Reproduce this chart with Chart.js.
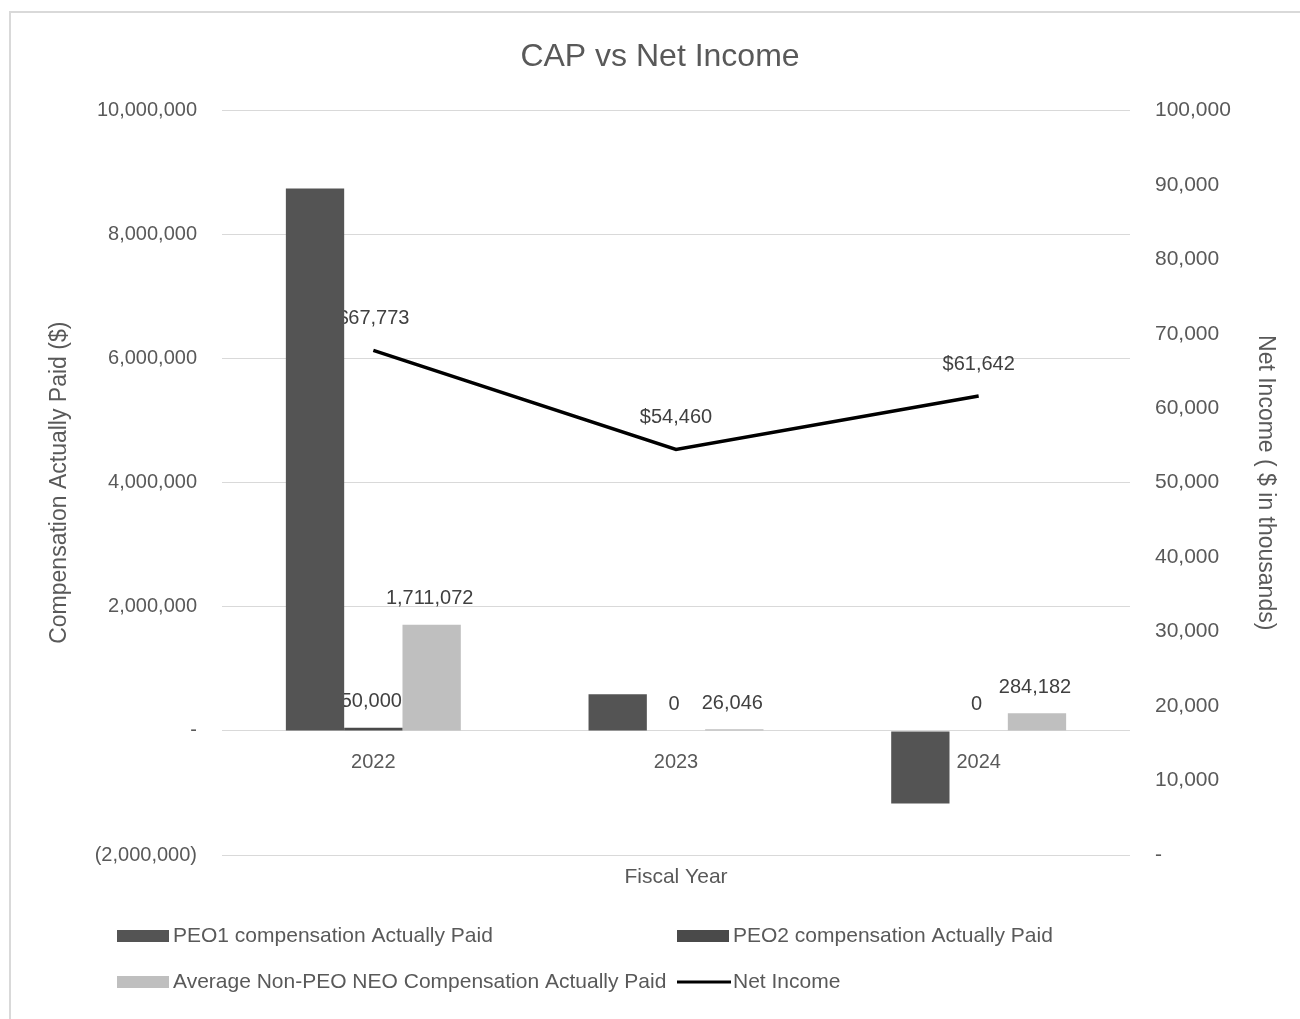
<!DOCTYPE html>
<html><head><meta charset="utf-8">
<script src="https://cdn.jsdelivr.net/npm/chart.js@4/dist/chart.umd.min.js"></script>
<style>
html,body{margin:0;padding:0;background:#fff;overflow:hidden}
#wrap{position:relative;width:1300px;height:1019px}
#frame{position:absolute;left:9px;top:11px;width:1400px;height:1100px;border-left:2px solid #d9d9d9;border-top:2px solid #d9d9d9}
canvas{position:absolute;left:0;top:0}
</style></head><body>
<div id="wrap"><div id="frame"></div><canvas id="c" width="1300" height="1019"></canvas></div>
<script>
// ---- data ----
const categories = ['2022', '2023', '2024'];
const peo1Cap = [8740000, 590000, -1170000];
const peo2Cap = [50000, 0, 0];
const avgNeoCap = [1711072, 26046, 284182];
const netIncome = [67773, 54460, 61642];
const seriesNames = ['PEO1 compensation Actually Paid', 'PEO2 compensation Actually Paid', 'Average Non-PEO NEO Compensation Actually Paid', 'Net Income'];
const chartTitle = 'CAP vs Net Income';
const xTitle = 'Fiscal Year';
const yTitle = 'Compensation Actually Paid ($)';
const y1Title = 'Net Income ( $ in thousands)';
const yTicks = [-2000000, 0, 2000000, 4000000, 6000000, 8000000, 10000000];
const y1Ticks = [0, 10000, 20000, 30000, 40000, 50000, 60000, 70000, 80000, 90000, 100000];

const FONT = '"Liberation Sans", Arial, sans-serif';
const TXT = '#595959';
const LBL = '#404040';

function fmtAxis(v) {
  if (v === 0) return '-';
  const s = Math.abs(v).toLocaleString('en-US');
  return v < 0 ? '(' + s + ')' : s;
}

const labelPlugin = {
  id: 'valueLabels',
  beforeDatasetsDraw(chart) {
    const ctx = chart.ctx;
    ctx.save();
    ctx.font = '20px ' + FONT;
    ctx.fillStyle = LBL;
    ctx.textAlign = 'center';
    ctx.textBaseline = 'middle';
    chart.data.datasets.forEach((ds, i) => {
      if (!ds.showLabels) return;
      const meta = chart.getDatasetMeta(i);
      meta.data.forEach((el, j) => {
        const v = ds.data[j];
        let txt = v.toLocaleString('en-US');
        if (ds.type === 'line') {
          ctx.fillText('$' + txt, el.x, el.y - 32);
        } else {
          const top = Math.min(el.y, el.base);
          ctx.fillText(txt, el.x - 2, top - 26);
        }
      });
    });
    ctx.restore();
  }
};

const legendPlugin = {
  id: 'gridLegend',
  afterDraw(chart) {
    const ctx = chart.ctx;
    const pos = [[117, 936], [677, 936], [117, 982], [677, 982]];
    ctx.save();
    ctx.font = '21px ' + FONT;
    ctx.fillStyle = TXT;
    ctx.textBaseline = 'middle';
    ctx.textAlign = 'left';
    chart.data.datasets.forEach((ds, i) => {
      const [x, y] = pos[i];
      if (ds.type === 'line') {
        ctx.strokeStyle = ds.borderColor;
        ctx.lineWidth = 3;
        ctx.beginPath(); ctx.moveTo(x, y); ctx.lineTo(x + 54, y); ctx.stroke();
      } else {
        ctx.fillStyle = ds.backgroundColor;
        ctx.fillRect(x, y - 6, 52, 12);
      }
      ctx.fillStyle = TXT;
      ctx.fillText(ds.label, x + 56, y);
    });
    ctx.restore();
  }
};

new Chart(document.getElementById('c'), {
  data: {
    labels: categories,
    datasets: [
      { type: 'bar', label: seriesNames[0], data: peo1Cap, backgroundColor: '#545454', yAxisID: 'y', order: 1, showLabels: false },
      { type: 'bar', label: seriesNames[1], data: peo2Cap, backgroundColor: '#4a4a4a', yAxisID: 'y', order: 1, showLabels: true },
      { type: 'bar', label: seriesNames[2], data: avgNeoCap, backgroundColor: '#bfbfbf', yAxisID: 'y', order: 1, showLabels: true },
      { type: 'line', label: seriesNames[3], data: netIncome, borderColor: '#000000', backgroundColor: '#000000', borderWidth: 3.5, pointRadius: 0, tension: 0, yAxisID: 'y1', order: 0, showLabels: true }
    ]
  },
  options: {
    responsive: false,
    animation: false,
    devicePixelRatio: 1,
    layout: { padding: { top: 0, left: 20, right: 0, bottom: 124 } },
    datasets: { bar: { barPercentage: 1, categoryPercentage: 0.578 } },
    plugins: {
      legend: { display: false },
      tooltip: { enabled: false },
      title: { display: true, text: chartTitle, color: TXT, font: { family: FONT, size: 32, weight: 'normal' }, padding: { top: 38, bottom: 34 } }
    },
    scales: {
      x: {
        type: 'category',
        position: { y: 0 },
        grid: { display: false, drawTicks: false },
        border: { display: false },
        ticks: { color: TXT, font: { family: FONT, size: 20 }, padding: 20 }
      },
      x2: {
        type: 'category',
        position: 'bottom',
        grid: { display: false, drawTicks: false },
        border: { display: false },
        ticks: { display: false },
        title: { display: true, text: xTitle, color: TXT, font: { family: FONT, size: 21 }, padding: { top: 0, bottom: 5 } },
        afterFit(s) { s.height = 40; }
      },
      y: {
        type: 'linear',
        position: 'left',
        min: -2000000, max: 10000000,
        afterBuildTicks(s) { s.ticks = yTicks.map(v => ({ value: v })); },
        grid: { color: '#d9d9d9', lineWidth: 1, drawTicks: false },
        border: { display: false },
        ticks: { color: TXT, font: { family: FONT, size: 20 }, padding: 25, callback: fmtAxis },
        title: { display: true, text: yTitle, color: TXT, font: { family: FONT, size: 23 }, padding: { top: 26, bottom: 0 } },
        afterFit(s) { s.width = 202; }
      },
      y1: {
        type: 'linear',
        position: 'right',
        min: 0, max: 100000,
        afterBuildTicks(s) { s.ticks = y1Ticks.map(v => ({ value: v })); },
        grid: { display: false, drawOnChartArea: false, drawTicks: false },
        border: { display: false },
        ticks: { color: TXT, font: { family: FONT, size: 21 }, padding: 25, callback: fmtAxis },
        title: { display: true, text: y1Title, color: TXT, font: { family: FONT, size: 23 }, padding: { top: 21, bottom: 0 } },
        afterFit(s) { s.width = 170; }
      }
    }
  },
  plugins: [labelPlugin, legendPlugin]
});
</script>
</body></html>
